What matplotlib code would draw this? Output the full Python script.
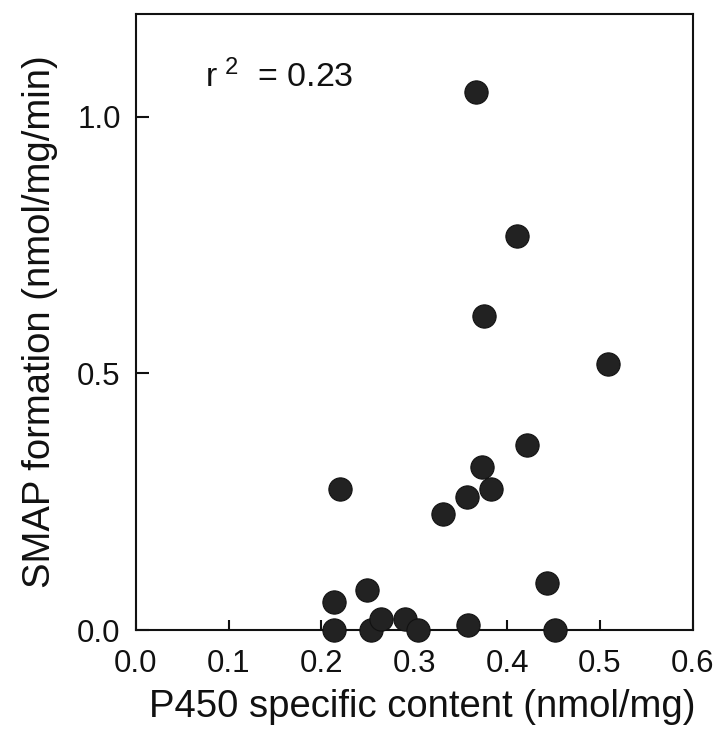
import matplotlib
matplotlib.use("Agg")
import matplotlib.pyplot as plt

plt.rcParams['font.family'] = ['Liberation Sans', 'DejaVu Sans']
plt.rcParams['mathtext.fontset'] = 'custom'
plt.rcParams['mathtext.rm'] = 'Liberation Sans'
plt.rcParams['mathtext.default'] = 'regular'

# Data
p450_content = [0.220, 0.331, 0.357, 0.373, 0.383, 0.422, 0.213, 0.249, 0.443,
                0.213, 0.253, 0.264, 0.290, 0.304, 0.358, 0.452, 0.367, 0.411,
                0.375, 0.509]
smap_formation = [0.274, 0.227, 0.259, 0.317, 0.275, 0.361, 0.055, 0.077, 0.092,
                  0.000, 0.000, 0.021, 0.021, 0.000, 0.010, 0.000, 1.049, 0.768,
                  0.612, 0.519]
x_ticks = [0.0, 0.1, 0.2, 0.3, 0.4, 0.5, 0.6]
y_ticks = [0.0, 0.5, 1.0]
r2_label = r"r$^{\ 2}$  = 0.23"

fig = plt.figure(figsize=(7.23, 7.5), dpi=100)
ax = fig.add_axes([0.188, 0.16, 0.770, 0.821])

ax.scatter(p450_content, smap_formation, s=280, color='#222222',
           edgecolors='#111111', linewidths=0.8, clip_on=False, zorder=3)

ax.set_xlim(0, 0.6)
ax.set_ylim(0, 1.2)
ax.set_xticks(x_ticks)
ax.set_yticks(y_ticks)
ax.set_xticklabels([f"{v:.1f}" for v in x_ticks])
ax.set_yticklabels([f"{v:.1f}" for v in y_ticks])

for s in ax.spines.values():
    s.set_linewidth(1.5)
    s.set_color('#111111')

ax.tick_params(axis='x', direction='in', length=7, width=1.5, labelsize=22.5,
               pad=14, top=False, colors='#111111')
ax.tick_params(axis='y', direction='in', length=9, width=1.5, labelsize=22.5,
               pad=11, right=False, colors='#111111')

ax.set_xlabel("P450 specific content (nmol/mg)", fontsize=27.5, labelpad=7,
              color='#111111')
ax.xaxis.label.set_x(0.515)
ax.set_ylabel("SMAP formation (nmol/mg/min)", fontsize=27.5, labelpad=14,
              color='#111111')

ax.text(0.074, 1.058, r2_label, fontsize=24.5, ha='left', va='baseline',
        color='#111111')

fig.savefig("out.png", dpi=100)
